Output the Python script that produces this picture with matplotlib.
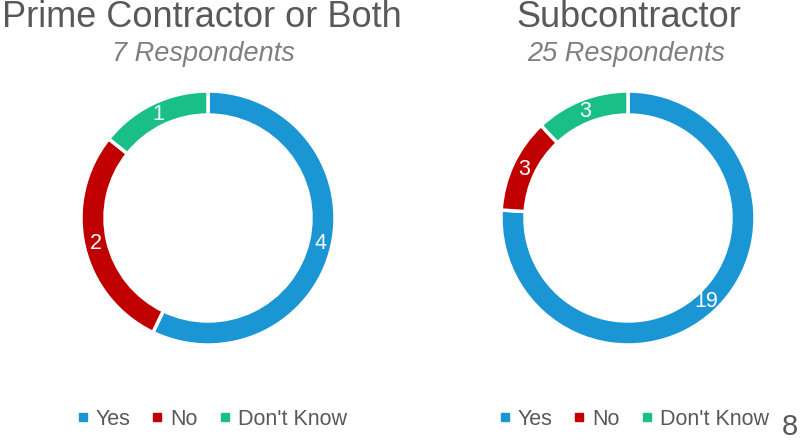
import math
import matplotlib.pyplot as plt
from matplotlib.lines import Line2D

plt.rcParams['font.family'] = ['Liberation Sans', 'DejaVu Sans']

categories = ["Yes", "No", "Don't Know"]
colors = ["#1a96d4", "#c00000", "#1abf88"]

titles = ["Prime Contractor or Both", "Subcontractor"]
subtitles = ["7 Respondents", "25 Respondents"]
prime_counts = [4, 2, 1]
sub_counts = [19, 3, 3]

W, H = 808, 444


def fx(x):
    return x / W


def fy(y):
    return 1 - y / H


def donut(fig, cx, cy, r, counts):
    ax = fig.add_axes([fx(cx - r), fy(cy + r), 2 * r / W, 2 * r / H])
    ring = 24 / r
    ax.pie(counts, colors=colors, startangle=90, counterclock=False, radius=1,
           wedgeprops=dict(width=ring, edgecolor="white", linewidth=2.5))
    # value labels sit in the middle of the ring
    total = sum(counts)
    start = 90.0
    for c in counts:
        span = c / total * 360
        mid = math.radians(start - span / 2)
        rr = 1 - ring / 2
        ax.text(rr * math.cos(mid), rr * math.sin(mid), str(c), color="white",
                fontsize=15.5, ha="center", va="center")
        start -= span
    ax.set_xlim(-1, 1)
    ax.set_ylim(-1, 1)
    ax.set_aspect("equal")
    ax.axis("off")
    return ax


def legend(fig, cx, cy):
    handles = [Line2D([], [], marker="s", linestyle="none", markersize=6,
                      markerfacecolor=c, markeredgecolor=c) for c in colors]
    fig.legend(handles, categories, loc="center", bbox_to_anchor=(fx(cx), fy(cy)),
               ncol=3, frameon=False, fontsize=15.5, handlelength=0.5,
               handletextpad=0.35, columnspacing=1.0, labelcolor="#595959",
               borderpad=0, borderaxespad=0)


fig = plt.figure(figsize=(W / 100, H / 100), dpi=100)

centers = [(208, 218), (628, 218)]
title_x = [202, 629]
sub_x = [203, 626]
for i, counts in enumerate([prime_counts, sub_counts]):
    cx, cy = centers[i]
    donut(fig, cx, cy, 127, counts)
    fig.text(fx(title_x[i]), fy(27), titles[i], fontsize=26, color="#595959",
             ha="center", va="baseline")
    fig.text(fx(sub_x[i]), fy(61), subtitles[i], fontsize=19.5, color="#7f7f7f",
             style="italic", ha="center", va="baseline")
    legend(fig, [212, 634][i], 419)

fig.text(fx(790), fy(427), "8", fontsize=21, color="#595959", ha="center", va="center")

fig.savefig("out.png", dpi=100)
